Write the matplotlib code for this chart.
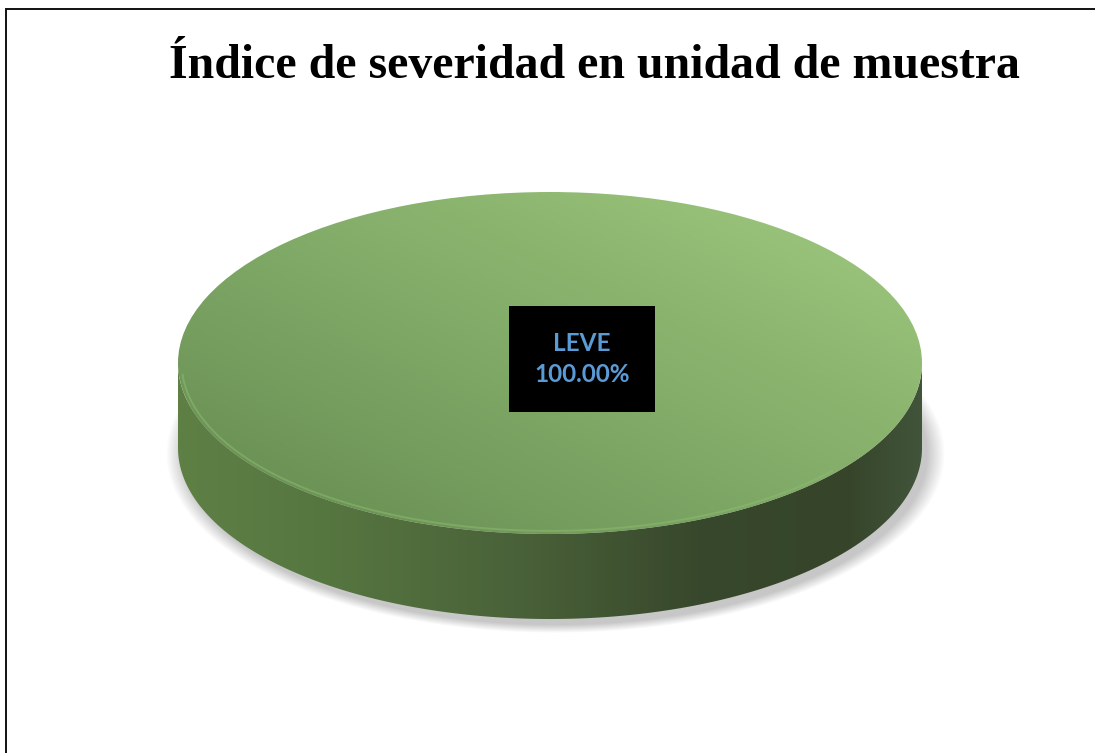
import numpy as np
import matplotlib
matplotlib.use("Agg")
import matplotlib.pyplot as plt
from matplotlib.colors import LinearSegmentedColormap
from matplotlib.patches import Polygon

# data
categories = ["LEVE"]
values = [100.0]
title = "Índice de severidad en unidad de muestra"

W, H = 1095, 753
# pie geometry (pixels)
cx, cy = 550, 363
rx, ry = 372, 171
depth = 85

fig = plt.figure(figsize=(W / 100, H / 100), dpi=100)
fig.patch.set_facecolor("white")

# frame lines
bg = fig.add_axes([0, 0, 1, 1])
bg.set_xlim(0, W)
bg.set_ylim(H, 0)
bg.axis("off")
bg.plot([6, 6, W], [H, 9, 9], color="#111111", lw=1.4, solid_joinstyle="miter")

ax = fig.add_axes([0, 0, 1, 1])
wedges, _ = ax.pie(values, radius=1, center=(0, 0), colors=["none"],
                   startangle=90, counterclock=False,
                   wedgeprops=dict(linewidth=0, zorder=3))
d = depth / ry

# soft shadow under the disc
t = np.linspace(0, 2 * np.pi, 300)
for k in range(14):
    s = 1 + 0.0035 * k
    ax.fill(0.015 + s * np.cos(t), -d - 0.035 + s * np.sin(t),
            color="black", alpha=0.014, lw=0, zorder=1)

# side of the disc
th = np.linspace(np.pi, 2 * np.pi, 300)
side_xy = np.r_[np.c_[np.cos(th), np.sin(th)],
                np.c_[np.cos(th[::-1]), np.sin(th[::-1]) - d]]
side = Polygon(side_xy, closed=True, fc="none", ec="none", zorder=2)
ax.add_patch(side)
side_cmap = LinearSegmentedColormap.from_list("side", [
    (0.0, "#5e8045"), (0.2, "#567640"), (0.45, "#4a6239"),
    (0.7, "#38482c"), (0.9, "#36452a"), (1.0, "#41543a")])
im = ax.imshow(np.linspace(0, 1, 400)[None, :], cmap=side_cmap,
               extent=(-1, 1, -1 - d, 0.05), aspect="auto",
               interpolation="bilinear", zorder=2)
im.set_clip_path(side)

# top face
X, Y = np.meshgrid(np.linspace(-1, 1, 300), np.linspace(1, -1, 300))
G = np.clip(0.5 + 0.30 * X + 0.28 * Y, 0, 1)
top_cmap = LinearSegmentedColormap.from_list(
    "top", ["#688e52", "#79a262", "#8ab46e", "#9dc77d"])
im2 = ax.imshow(G, cmap=top_cmap, vmin=0, vmax=1, extent=(-1, 1, -1, 1),
                aspect="auto", interpolation="bilinear", zorder=3)
im2.set_clip_path(wedges[0])

# bevel highlight along the front rim
a = np.linspace(np.radians(184), np.radians(320), 200)
ax.plot(0.99 * np.cos(a), 0.982 * np.sin(a), color="#8dbd70",
        lw=1.4, alpha=0.5, zorder=4, solid_capstyle="round")

# data label
total = sum(values)
for cat, val in zip(categories, values):
    ax.text(0.086, 0.023, f"{cat}\n{val / total * 100:.2f}%",
            ha="center", va="center", color="#5b9bd5", fontsize=17.5,
            fontweight="bold", family=["Lato", "DejaVu Sans"],
            linespacing=1.45, zorder=6,
            bbox=dict(boxstyle="square,pad=1.05", fc="black", ec="none"))

ax.set_aspect("auto")
ax.set_xlim(-cx / rx, (W - cx) / rx)
ax.set_ylim(-(H - cy) / ry, cy / ry)
ax.axis("off")

fig.text(594 / W, 1 - 78 / H, title, ha="center", va="baseline",
         fontsize=34.5, fontweight="bold", family="Liberation Serif")

fig.savefig("out.png", dpi=100, facecolor="white")
